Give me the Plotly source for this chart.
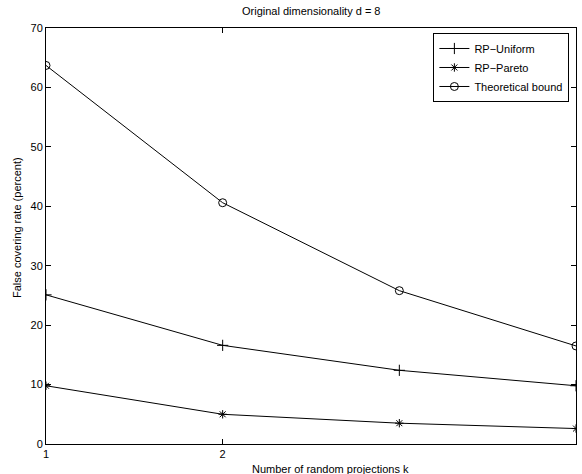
import plotly.graph_objects as go

# Number of random projections k (log-scaled axis)
k_values = [1, 2, 4, 8]

# False covering rate (percent) per method
rp_uniform = [25.1, 16.6, 12.4, 9.8]
rp_pareto = [9.8, 5.0, 3.5, 2.6]
theoretical_bound = [63.7, 40.6, 25.8, 16.5]

x_tick_vals = [1, 2]
x_tick_text = ["1", "2"]
y_tick_vals = [0, 10, 20, 30, 40, 50, 60, 70]

W, H = 582, 474
L, R, T, B = 46, 6, 28, 30
FONT = "Liberation Sans, Arial, Helvetica, sans-serif"

fig = go.Figure()

series = [
    ("RP\u2212Uniform", rp_uniform, "cross-thin-open", 8),
    ("RP\u2212Pareto", rp_pareto, "asterisk-open", 7),
    ("Theoretical bound", theoretical_bound, "circle-open", 8),
]
for name, vals, sym, size in series:
    fig.add_trace(go.Scatter(
        x=k_values, y=vals, name=name, mode="lines+markers",
        line=dict(color="black", width=1),
        marker=dict(symbol=sym, size=size, color="black",
                    line=dict(color="black", width=1)),
    ))

fig.update_layout(
    width=W, height=H,
    margin=dict(l=L, r=R, t=T, b=B),
    paper_bgcolor="white", plot_bgcolor="white",
    font=dict(family=FONT, size=11, color="black"),
    showlegend=True,
    legend=dict(
        x=0.9875, y=0.988, xanchor="right", yanchor="top",
        bordercolor="black", borderwidth=1, bgcolor="white",
        font=dict(size=11), tracegroupgap=0, itemwidth=30,
    ),
    xaxis=dict(
        type="log", range=[0, 0.90309],
        tickvals=x_tick_vals, ticktext=x_tick_text,
        ticks="inside", ticklen=5, tickcolor="black",
        showline=True, linecolor="black", linewidth=1, mirror="ticks",
        showgrid=False, zeroline=False,
        tickfont=dict(size=11),
    ),
    yaxis=dict(
        range=[0, 70], tickvals=y_tick_vals,
        ticks="inside", ticklen=5, tickcolor="black",
        showline=True, linecolor="black", linewidth=1, mirror="ticks",
        showgrid=False, zeroline=False,
        tickfont=dict(size=11),
    ),
    annotations=[
        dict(text="Original dimensionality d = 8", xref="paper", yref="paper",
             x=0.5, y=1 + 17 / (H - T - B), xanchor="center", yanchor="middle",
             showarrow=False, font=dict(size=11)),
        dict(text="Number of random projections k", xref="paper", yref="paper",
             x=(330 - L) / (W - L - R), y=-(469 - (H - B)) / (H - T - B),
             xanchor="center", yanchor="middle", showarrow=False,
             font=dict(size=11)),
        dict(text="False covering rate (percent)", xref="paper", yref="paper",
             x=-(L - 17) / (W - L - R), y=((H - B) - 228) / (H - T - B),
             xanchor="center", yanchor="middle", textangle=-90,
             showarrow=False, font=dict(size=11)),
    ],
)

fig.write_html("out.html")
